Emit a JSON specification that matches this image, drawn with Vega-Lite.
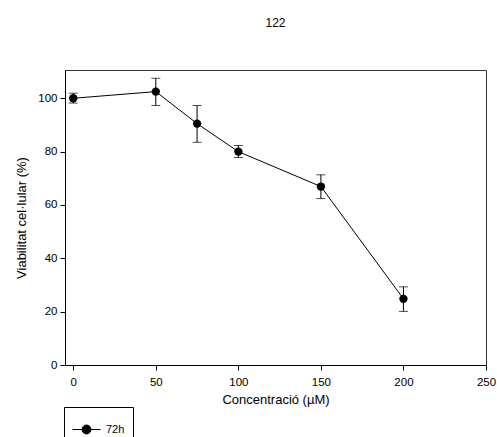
{
  "$schema": "https://vega.github.io/schema/vega-lite/v6.json",
  "autosize": "none",
  "width": 421,
  "height": 295,
  "padding": {"left": 65, "top": 70, "right": 11, "bottom": 72},
  "title": {"text": "122", "fontSize": 12, "fontWeight": "normal", "font": "Liberation Sans", "color": "#000", "offset": 40, "anchor": "middle"},
  "data": {"values": [
    {"conc": 0, "viab": 100, "lo": 98.2, "hi": 101.9, "series": "72h"},
    {"conc": 50, "viab": 102.5, "lo": 97.3, "hi": 107.5, "series": "72h"},
    {"conc": 75, "viab": 90.5, "lo": 83.5, "hi": 97.3, "series": "72h"},
    {"conc": 100, "viab": 80, "lo": 77.8, "hi": 82.3, "series": "72h"},
    {"conc": 150, "viab": 66.9, "lo": 62.4, "hi": 71.3, "series": "72h"},
    {"conc": 200, "viab": 24.8, "lo": 20.1, "hi": 29.3, "series": "72h"}
  ]},
  "encoding": {
    "x": {"field": "conc", "type": "quantitative",
      "scale": {"domain": [-5, 250], "nice": false, "zero": false},
      "axis": {"values": [0, 50, 100, 150, 200, 250], "title": "Concentració (µM)", "titlePadding": 6, "labelFlush": false}},
    "y": {"field": "viab", "type": "quantitative",
      "scale": {"domain": [0, 110.6], "nice": false},
      "axis": {"values": [0, 20, 40, 60, 80, 100], "title": "Viabilitat cel·lular (%)", "titlePadding": 9, "labelFlush": false}}
  },
  "layer": [
    {"mark": {"type": "errorbar", "ticks": {"size": 9, "color": "#000"}, "rule": {"color": "#000", "strokeWidth": 1}},
     "encoding": {"y": {"field": "lo", "type": "quantitative", "title": "Viabilitat cel·lular (%)"}, "y2": {"field": "hi"}}},
    {"mark": {"type": "line", "color": "#000", "strokeWidth": 1},
     "encoding": {"color": {"field": "series", "type": "nominal", "scale": {"range": ["#000"]},
       "legend": {"title": null, "orient": "none", "legendX": -1, "legendY": 337,
         "symbolType": "M-1,0H1M-0.32,0A0.32,0.32 0 1,0 0.32,0A0.32,0.32 0 1,0 -0.32,0Z",
         "symbolSize": 784, "symbolStrokeWidth": 1, "symbolFillColor": "#000", "symbolStrokeColor": "#000",
         "labelFont": "Liberation Sans", "labelFontSize": 11, "labelColor": "#000", "labelOffset": 5,
         "padding": 8, "strokeColor": "#000", "fillColor": "#fff"}}}},
    {"mark": {"type": "point", "shape": "circle", "filled": true, "color": "#000", "size": 70, "opacity": 1}}
  ],
  "config": {
    "view": {"stroke": "#333", "strokeWidth": 1},
    "axis": {"domainColor": "#000", "tickColor": "#000", "tickSize": 5, "grid": false,
      "labelFont": "Liberation Sans", "labelFontSize": 11.5, "labelColor": "#000", "labelPadding": 3,
      "titleFont": "Liberation Sans", "titleFontSize": 13, "titleFontWeight": "normal", "titleColor": "#000"},
    "axisX": {"labelPadding": 6}
  }
}
